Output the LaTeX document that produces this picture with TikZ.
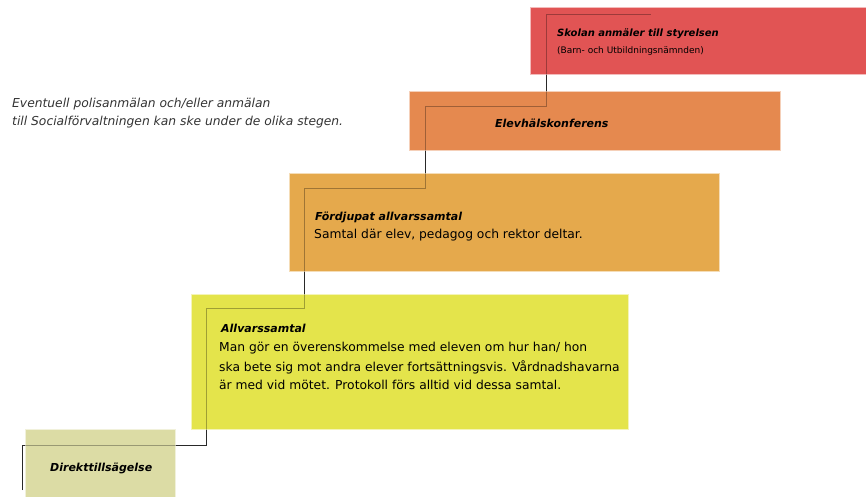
\documentclass[tikz,border=0pt]{standalone}
\usepackage{fontspec}
\setmainfont{DejaVu Sans}
\definecolor{cred}{RGB}{225,84,84}
\definecolor{corange}{RGB}{229,137,79}
\definecolor{camber}{RGB}{229,169,76}
\definecolor{cyellow}{RGB}{228,228,75}
\definecolor{colive}{RGB}{220,220,165}
\definecolor{cline}{RGB}{60,60,60}
\begin{document}
\begin{tikzpicture}[x=1pt,y=-1pt,
  box/.style={anchor=north west,inner sep=0pt,draw=white!60!#1,line width=0.6pt,fill=#1},
  stair/.style={draw=cline,line width=0.8pt},
  stairover/.style={draw=black,line width=0.9pt,draw opacity=0.3},
  head/.style={anchor=west,inner sep=0pt,font=\fontsize{11}{13}\selectfont\bfseries\itshape},
  body/.style={anchor=west,inner sep=0pt,font=\fontsize{12.3}{14}\selectfont},
  note/.style={anchor=west,inner sep=0pt,font=\fontsize{12.3}{14}\selectfont\itshape,text=black!80}]
\useasboundingbox (0,0) rectangle (866,496);
% stair line
\coordinate (s0) at (22,490);
\coordinate (s1) at (22,445);
\coordinate (s2) at (206,445);
\coordinate (s3) at (206,308);
\coordinate (s4) at (304,308);
\coordinate (s5) at (304,188);
\coordinate (s6) at (425,188);
\coordinate (s7) at (425,106);
\coordinate (s8) at (546,106);
\coordinate (s9) at (546,14);
\coordinate (s10) at (651,14);
\draw[stair] (s0) -- (s1) -- (s2) -- (s3) -- (s4) -- (s5) -- (s6) -- (s7) -- (s8) -- (s9) -- (s10);
% boxes
\node[box=cred,minimum width=340pt,minimum height=67pt] (bred) at (530,7) {};
\node[box=corange,minimum width=371pt,minimum height=59pt] (borange) at (409,91) {};
\node[box=camber,minimum width=430pt,minimum height=98pt] (bamber) at (289,173) {};
\node[box=cyellow,minimum width=437pt,minimum height=135pt] (byellow) at (191,294) {};
\node[box=colive,minimum width=150pt,minimum height=70pt] (bolive) at (25,429) {};
\draw[stairover] (s0) -- (s1) -- (s2) -- (s3) -- (s4) -- (s5) -- (s6) -- (s7) -- (s8) -- (s9) -- (s10);
% texts
\node[head,font=\fontsize{10}{12}\selectfont\bfseries\itshape] (t1) at (557,34) {Skolan anmäler till styrelsen};
\node[anchor=west,inner sep=0pt,font=\fontsize{9}{11}\selectfont] (t1b) at (557,51) {(Barn- och Utbildningsnämnden)};
\node[head] (t2) at (495,123) {Elevhälskonferens};
\node[head] (t3) at (315,217) {Fördjupat allvarssamtal};
\node[body] (t3b) at (314,235) {Samtal där elev, pedagog och rektor deltar.};
\node[head] (t4) at (221,328) {Allvarssamtal};
\node[body] (t4a) at (219,348) {Man gör en överenskommelse med eleven om hur han/ hon};
\node[body] (t4b) at (219,367) {ska bete sig mot andra elever fortsättningsvis. Vårdnadshavarna};
\node[body] (t4c) at (219,385) {är med vid mötet. Protokoll förs alltid vid dessa samtal.};
\node[head] (t5) at (50,468) {Direkttillsägelse};
\node[note] (n1) at (12,104) {Eventuell polisanmälan och/eller anmälan};
\node[note] (n2) at (12,122) {till Socialförvaltningen kan ske under de olika stegen.};
\end{tikzpicture}
\end{document}
